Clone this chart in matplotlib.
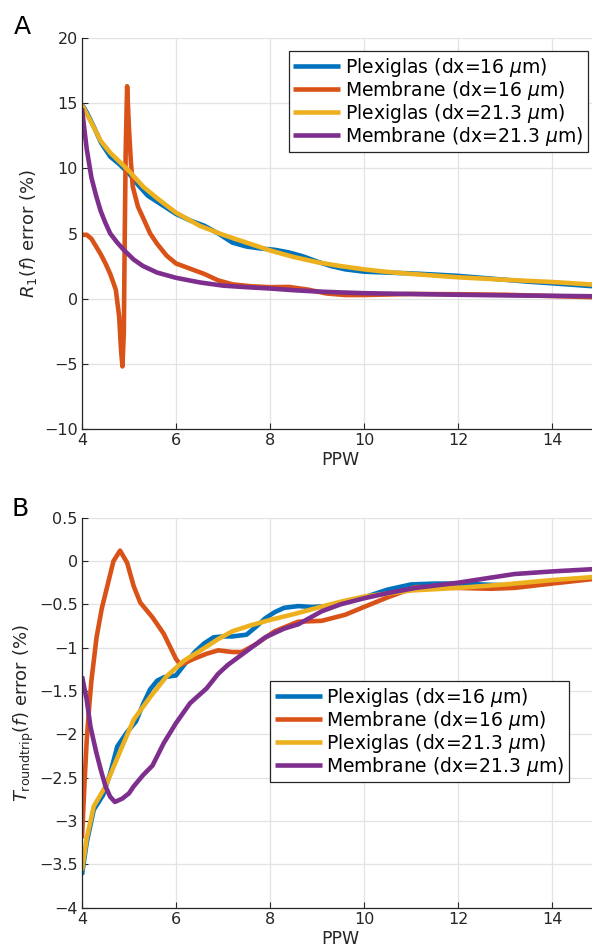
import numpy as np
import matplotlib
matplotlib.use("Agg")
import matplotlib.pyplot as plt
from matplotlib.ticker import FuncFormatter

# ---- panel A : R1(f) error (%) ----
a_plex16_x = [4.0, 4.1, 4.25, 4.4, 4.6, 4.8, 5.0, 5.2, 5.4, 5.7, 6.0, 6.3, 6.6, 6.9, 7.2, 7.5, 7.8, 8.1,
              8.4, 8.7, 9.0, 9.3, 9.6, 10.0, 10.5, 11.0, 11.5, 12.0, 12.5, 13.0, 13.5, 14.0, 14.5, 15.0]
a_plex16_y = [14.9, 14.3, 13.2, 12.0, 10.9, 10.3, 9.6, 8.7, 7.9, 7.2, 6.5, 6.0, 5.6, 5.0, 4.3, 4.0, 3.85, 3.75,
              3.55, 3.25, 2.85, 2.5, 2.25, 2.07, 2.0, 1.94, 1.85, 1.75, 1.6, 1.45, 1.3, 1.18, 1.05, 0.92]

a_memb16_x = [4.0, 4.1, 4.2, 4.3, 4.4, 4.5, 4.6, 4.67, 4.72, 4.79, 4.83, 4.86, 4.89, 4.91, 4.93, 4.96,
              5.0, 5.04, 5.08, 5.19, 5.3, 5.45, 5.6, 5.8, 6.0, 6.3, 6.6, 6.9, 7.2, 7.6, 8.0, 8.4, 8.8,
              9.2, 9.6, 10.0, 11.0, 12.0, 13.0, 14.0, 15.0]
a_memb16_y = [4.9, 4.9, 4.6, 4.0, 3.4, 2.7, 1.9, 1.2, 0.67, -1.37, -3.9, -5.2, -2.6, 5.0, 11.4, 16.3,
              13.0, 10.5, 8.6, 7.06, 6.2, 5.0, 4.2, 3.3, 2.7, 2.3, 1.9, 1.4, 1.1, 0.95, 0.88, 0.9, 0.7,
              0.4, 0.28, 0.28, 0.36, 0.34, 0.3, 0.2, 0.1]

a_plex21_x = [4.0, 4.2, 4.4, 4.6, 4.8, 5.0, 5.3, 5.6, 6.0, 6.5, 7.0, 7.5, 8.0, 8.5, 9.0, 9.5, 10.0,
              10.5, 11.0, 12.0, 13.0, 14.0, 15.0]
a_plex21_y = [14.85, 13.5, 12.1, 11.2, 10.5, 9.8, 8.6, 7.7, 6.6, 5.6, 4.9, 4.3, 3.7, 3.2, 2.8, 2.5, 2.25,
              2.05, 1.9, 1.64, 1.45, 1.28, 1.05]

a_memb21_x = [4.0, 4.05, 4.1, 4.2, 4.3, 4.4, 4.5, 4.6, 4.75, 4.9, 5.1, 5.3, 5.6, 6.0, 6.5, 7.0, 7.5,
              8.0, 8.5, 9.0, 9.5, 10.0, 11.0, 12.0, 13.0, 14.0, 15.0]
a_memb21_y = [14.6, 13.0, 11.5, 9.3, 7.9, 6.7, 5.8, 5.0, 4.3, 3.7, 3.0, 2.5, 2.0, 1.6, 1.25, 1.0, 0.88,
              0.78, 0.65, 0.55, 0.48, 0.42, 0.36, 0.3, 0.25, 0.22, 0.18]

# ---- panel B : T_roundtrip(f) error (%) ----
b_plex16_x = [4.0, 4.1, 4.25, 4.45, 4.6, 4.75, 4.95, 5.15, 5.3, 5.45, 5.6, 5.75, 6.0, 6.2, 6.4, 6.6, 6.8,
              7.0, 7.2, 7.5, 7.7, 7.9, 8.1, 8.3, 8.6, 8.9, 9.2, 9.5, 10.0, 10.5, 11.0, 11.5, 12.0, 12.5,
              13.0, 13.5, 14.0, 14.5, 15.0]
b_plex16_y = [-3.62, -3.25, -2.87, -2.7, -2.45, -2.14, -1.98, -1.85, -1.65, -1.48, -1.38, -1.34, -1.32,
              -1.18, -1.05, -0.95, -0.88, -0.87, -0.87, -0.85, -0.76, -0.66, -0.59, -0.54, -0.52, -0.53,
              -0.52, -0.48, -0.42, -0.33, -0.27, -0.26, -0.26, -0.27, -0.28, -0.26, -0.23, -0.21, -0.19]

b_memb16_x = [4.0, 4.05, 4.1, 4.15, 4.2, 4.31, 4.42, 4.52, 4.67, 4.81, 4.96, 5.1, 5.24, 5.5, 5.74, 6.0,
              6.1, 6.37, 6.65, 6.9, 7.2, 7.4, 7.7, 8.1, 8.6, 9.1, 9.6, 10.0, 10.5, 11.1, 12.0, 12.7, 13.2,
              14.0, 15.0]
b_memb16_y = [-3.2, -2.6, -2.07, -1.7, -1.38, -0.88, -0.55, -0.33, 0.0, 0.12, -0.02, -0.29, -0.48, -0.65,
              -0.84, -1.13, -1.2, -1.13, -1.07, -1.03, -1.05, -1.05, -0.96, -0.81, -0.7, -0.69, -0.62,
              -0.53, -0.42, -0.3, -0.31, -0.32, -0.31, -0.26, -0.2]

b_plex21_x = [4.0, 4.1, 4.25, 4.5, 4.8, 5.1, 5.45, 5.8, 6.17, 6.5, 6.9, 7.2, 7.6, 8.0, 8.6, 9.0, 9.5,
              10.0, 11.0, 12.0, 13.0, 14.0, 15.0]
b_plex21_y = [-3.57, -3.2, -2.83, -2.6, -2.21, -1.83, -1.57, -1.33, -1.15, -1.04, -0.9, -0.81, -0.74,
              -0.68, -0.6, -0.54, -0.47, -0.41, -0.34, -0.31, -0.27, -0.22, -0.18]

b_memb21_x = [4.0, 4.1, 4.18, 4.3, 4.4, 4.5, 4.6, 4.7, 4.86, 5.0, 5.1, 5.3, 5.5, 5.74, 6.0, 6.3, 6.65,
              6.9, 7.1, 7.5, 7.9, 8.3, 8.6, 9.1, 9.5, 10.0, 10.5, 11.1, 12.0, 13.2, 14.0, 15.0]
b_memb21_y = [-1.33, -1.6, -1.91, -2.2, -2.41, -2.6, -2.72, -2.78, -2.74, -2.68, -2.6, -2.47, -2.36, -2.1,
              -1.87, -1.64, -1.47, -1.3, -1.2, -1.04, -0.88, -0.78, -0.73, -0.58, -0.5, -0.43, -0.37,
              -0.31, -0.25, -0.15, -0.12, -0.09]

labels = [r'Plexiglas (dx=16 $\mu$m)', r'Membrane (dx=16 $\mu$m)',
          r'Plexiglas (dx=21.3 $\mu$m)', r'Membrane (dx=21.3 $\mu$m)']
colors = ['#0072BD', '#D95319', '#EDB120', '#7E2F8E']

plt.rcParams['font.family'] = 'DejaVu Sans'
plt.rcParams['mathtext.fontset'] = 'dejavusans'

fig = plt.figure(figsize=(5.92, 9.52), dpi=100)
W, H = 592.0, 952.0
axA = fig.add_axes([82/W, 1-429/H, 517/W, 391/H])
axB = fig.add_axes([82/W, 1-907.7/H, 517/W, 390/H])


def fmt(v, pos):
    return ('%g' % round(v, 6)).replace('-', '\u2212')


def style(ax):
    for s in ['top', 'right']:
        ax.spines[s].set_visible(False)
    for s in ['left', 'bottom']:
        ax.spines[s].set_color('#262626')
        ax.spines[s].set_linewidth(0.9)
    ax.grid(True, color='#e3e3e3', linewidth=0.9)
    ax.set_axisbelow(True)
    ax.tick_params(direction='in', length=4, width=0.8, color='#262626',
                   labelsize=11.5, labelcolor='#262626', pad=3)
    ax.set_xlim(4, 15)
    ax.set_xticks([4, 6, 8, 10, 12, 14])
    ax.xaxis.set_major_formatter(FuncFormatter(fmt))
    ax.yaxis.set_major_formatter(FuncFormatter(fmt))
    ax.set_xlabel('PPW', fontsize=12.5, color='#262626', labelpad=2)


A = [(a_plex16_x, a_plex16_y), (a_memb16_x, a_memb16_y),
     (a_plex21_x, a_plex21_y), (a_memb21_x, a_memb21_y)]
B = [(b_plex16_x, b_plex16_y), (b_memb16_x, b_memb16_y),
     (b_plex21_x, b_plex21_y), (b_memb21_x, b_memb21_y)]

for ax, series in [(axA, A), (axB, B)]:
    for (x, y), c, lab in zip(series, colors, labels):
        ax.plot(x, y, color=c, linewidth=3.3, label=lab, solid_capstyle='butt')
    style(ax)

axA.set_ylim(-10, 20)
axA.set_yticks(np.arange(-10, 21, 5))
axA.set_ylabel(r'$R_1(f)$ error (%)', fontsize=13, color='#262626', labelpad=4)

axB.set_ylim(-4, 0.5)
axB.set_yticks(np.arange(-4, 0.51, 0.5))
axB.set_ylabel(r'$T_{\mathrm{roundtrip}}(f)$ error (%)', fontsize=13, color='#262626', labelpad=2)

leg_kw = dict(loc='upper left', fontsize=13.5, frameon=True, fancybox=False, borderaxespad=0,
              handlelength=2.5, handletextpad=0.25, labelspacing=0.0, borderpad=0.25)
lA = axA.legend(bbox_to_anchor=(0.40, 0.967), **leg_kw)
lB = axB.legend(bbox_to_anchor=(0.364, 0.581), **leg_kw)
for lg in (lA, lB):
    lg.get_frame().set_edgecolor('#262626')
    lg.get_frame().set_linewidth(0.9)
    lg.get_frame().set_alpha(1)

fig.text(14/W, 1-34/H, 'A', fontsize=18)
fig.text(12/W, 1-516/H, 'B', fontsize=18)

fig.savefig('out.png', dpi=100)
